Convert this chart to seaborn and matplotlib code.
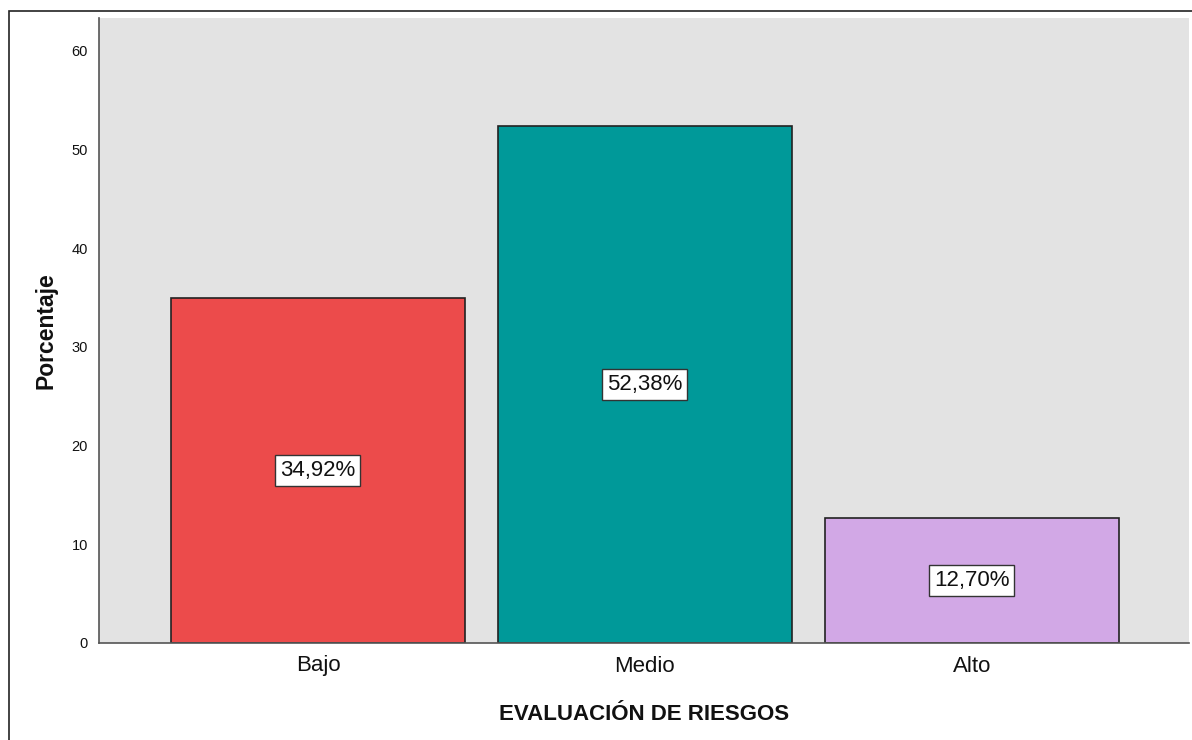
import pandas as pd
import seaborn as sns
import matplotlib
matplotlib.use("Agg")
import matplotlib.pyplot as plt
from matplotlib.patches import Rectangle

categories = ["Bajo", "Medio", "Alto"]
percentages = [34.92, 52.38, 12.70]
bar_colors = ["#EC4B4B", "#009999", "#D2A8E6"]
y_ticks = [0, 10, 20, 30, 40, 50, 60]

df = pd.DataFrame({"cat": categories, "pct": percentages})

sns.set_theme(style="white")
plt.rcParams["font.family"] = ["Liberation Sans", "DejaVu Sans"]
plt.rcParams["text.color"] = "#111111"
plt.rcParams["axes.labelcolor"] = "#111111"
plt.rcParams["xtick.color"] = "#111111"
plt.rcParams["ytick.color"] = "#111111"

fig = plt.figure(figsize=(11.92, 7.40), dpi=100)
ax = fig.add_axes([99 / 1192, 97 / 740, 1090 / 1192, 625 / 740])
ax.set_facecolor("#E3E3E3")

sns.barplot(data=df, x="cat", y="pct", hue="cat", palette=bar_colors,
            saturation=1, width=0.9, edgecolor="#222222", linewidth=1.2,
            legend=False, ax=ax)

for i, v in enumerate(percentages):
    ax.text(i, v / 2, f"{v:.2f}%".replace(".", ","), ha="center", va="center",
            fontsize=16, color="#111111",
            bbox=dict(boxstyle="square,pad=0.22", fc="white", ec="#333333", lw=1))

ax.set_xlim(-0.67, 2.665)
ax.set_ylim(0, 63.3)
ax.set_yticks(y_ticks)
ax.tick_params(axis="y", labelsize=10.5, length=0, pad=8)
ax.tick_params(axis="x", labelsize=16, length=0, pad=9)
ax.set_xlabel("EVALUACIÓN DE RIESGOS", fontsize=16, fontweight="bold", labelpad=20)
ax.set_ylabel("Porcentaje", fontsize=16.5, fontweight="bold", labelpad=10)

for s in ["top", "right"]:
    ax.spines[s].set_visible(False)
for s in ["left", "bottom"]:
    ax.spines[s].set_color("#555555")
    ax.spines[s].set_linewidth(1.2)

fig.patches.append(Rectangle((9 / 1192, -0.1), 1.2, 1.1 - 11 / 740,
                             transform=fig.transFigure, fill=False,
                             ec="#222222", lw=1.2, clip_on=False))

fig.savefig("out.png", dpi=100)
plt.close(fig)
